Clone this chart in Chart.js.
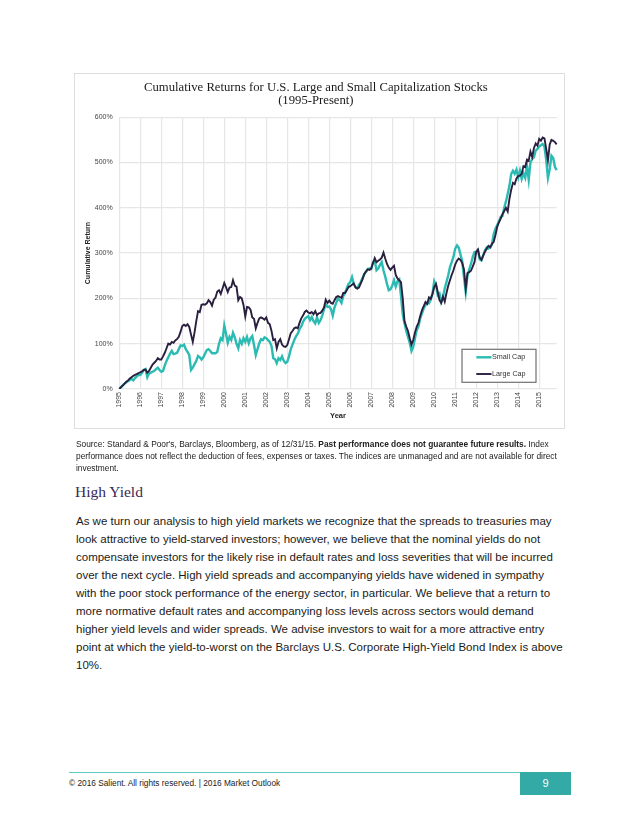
<!DOCTYPE html>
<html>
<head>
<meta charset="utf-8">
<script src="https://cdn.jsdelivr.net/npm/chart.js@4.4.1/dist/chart.umd.min.js"></script>
<style>
  html, body { margin: 0; padding: 0; background: #fff; }
  body { width: 640px; height: 828px; position: relative; overflow: hidden;
         font-family: "Liberation Sans", Arial, sans-serif; color: #1e1e1e; }
  #box { position: absolute; left: 75px; top: 74px; width: 490px; height: 355px; }
  #frame { position: absolute; left: 74px; top: 73px; width: 489px; height: 354px;
           border: 1.5px solid #dedede; pointer-events: none; }
  #source { position: absolute; left: 76px; top: 438px; font-size: 8.35px; line-height: 12px; color: #222; white-space: nowrap; }
  #heading { position: absolute; left: 75px; top: 483px; font-family: "Liberation Serif", serif;
             font-size: 15.5px; line-height: 18px; color: #3a2858; }
  #body { position: absolute; left: 76px; top: 512px; font-size: 11.5px; line-height: 18px; color: #1a1a1a; white-space: nowrap; }
  #rule { position: absolute; left: 69px; top: 771.5px; width: 502px; height: 1px; background: #5ccac4; }
  #foot { position: absolute; left: 69px; top: 778px; font-size: 8.3px; line-height: 10px; color: #222; }
  #page { position: absolute; left: 520px; top: 772px; width: 51px; height: 23px; background: #33aaa6;
          color: #fff; font-size: 11px; line-height: 23px; text-align: center; }
</style>
</head>
<body>
<div id="box"><canvas id="CumulativeReturns"></canvas></div>
<div id="frame"></div>

<div id="source">Source: Standard &amp; Poor's, Barclays, Bloomberg, as of 12/31/15. <b>Past performance does not guarantee future results.</b> Index<br>performance does not reflect the deduction of fees, expenses or taxes. The indices are unmanaged and are not available for direct<br>investment.</div>

<div id="heading">High Yield</div>

<div id="body">As we turn our analysis to high yield markets we recognize that the spreads to treasuries may<br>look attractive to yield-starved investors; however, we believe that the nominal yields do not<br>compensate investors for the likely rise in default rates and loss severities that will be incurred<br>over the next cycle. High yield spreads and accompanying yields have widened in sympathy<br>with the poor stock performance of the energy sector, in particular. We believe that a return to<br>more normative default rates and accompanying loss levels across sectors would demand<br>higher yield levels and wider spreads. We advise investors to wait for a more attractive entry<br>point at which the yield-to-worst on the Barclays U.S. Corporate High-Yield Bond Index is above<br>10%.</div>

<div id="rule"></div>
<div id="foot">© 2016 Salient. All rights reserved. | 2016 Market Outlook</div>
<div id="page">9</div>

<script>
// tick labels (one per January)
var years = ["1995", "1996", "1997", "1998", "1999", "2000", "2001", "2002", "2003", "2004",
             "2005", "2006", "2007", "2008", "2009", "2010", "2011", "2012", "2013", "2014", "2015"];

// monthly cumulative return, %, Jan 1995 - Nov 2015
var smallCap = [
  0, 4, 8, 12, 15, 17, 20, 22, 19, 24, 28, 31,
  31, 36, 42, 44, 26, 34, 36, 38, 40, 44, 47, 42,
  38, 40, 52, 62, 70, 78, 84, 77, 78, 80, 88, 96,
  95, 98, 88, 82, 75, 42, 47, 55, 62, 73, 70, 65,
  70, 78, 86, 88, 84, 79, 79, 79, 82, 100, 112, 108,
  140, 122, 102, 115, 108, 124, 114, 100, 90, 108, 100, 112,
  104, 115, 101, 112, 117, 97, 75, 88, 101, 110, 108, 114,
  112, 108, 104, 95, 68, 66, 57, 68, 64, 72, 62, 57,
  60, 72, 88, 98, 108, 116, 122, 132, 138, 148, 155, 158,
  161, 152, 159, 150, 145, 158, 146, 152, 162, 176, 186, 181,
  182, 176, 162, 180, 190, 200, 196, 190, 205, 212, 222, 232,
  236, 247, 232, 225, 222, 230, 236, 245, 253, 259, 265, 266,
  265, 280, 283, 262, 266, 274, 280, 262, 248, 232, 218, 220,
  228, 240, 226, 238, 242, 205, 165, 145, 128, 115, 102, 84,
  93, 112, 130, 138, 156, 167, 178, 185, 190, 189, 198, 210,
  238, 230, 207, 211, 192, 203, 222, 236, 251, 269, 280, 292,
  310, 317, 312, 297, 282, 247, 214, 250, 264, 276, 291, 302,
  302, 306, 286, 284, 295, 306, 312, 310, 312, 320, 342, 354,
  362, 370, 380, 382, 400, 414, 431, 449, 475, 482, 475, 484,
  467, 482, 464, 476, 466, 493, 462, 500, 508, 512, 526, 530,
  535, 538, 541, 535, 505, 466, 485, 515, 510, 490, 483
];

var largeCap = [
  0, 4, 8, 12, 16, 19, 23, 26, 29, 31, 33, 35,
  37, 39, 42, 43, 36, 40, 47, 54, 58, 62, 68, 65,
  65, 72, 80, 90, 100, 98, 104, 102, 107, 110, 115, 126,
  139, 142, 139, 143, 137, 120, 104, 125, 150, 172, 170, 186,
  187, 186, 189, 196, 192, 184, 197, 202, 215, 218, 210, 222,
  234, 225, 214, 224, 225, 240, 228, 226, 196, 203, 200, 185,
  160, 181, 180, 175, 158, 155, 134, 146, 156, 158, 156, 153,
  158, 146, 143, 128, 108, 110, 90, 104, 110, 98, 94, 93,
  97, 110, 123, 128, 134, 136, 134, 146, 156, 162, 170, 173,
  169, 167, 170, 165, 172, 163, 167, 168, 173, 180, 197, 190,
  195, 190, 188, 196, 203, 205, 203, 201, 212, 212, 218, 225,
  227, 230, 233, 224, 222, 224, 233, 242, 254, 259, 264, 263,
  266, 278, 289, 280, 283, 286, 290, 301, 288, 276, 268, 263,
  268, 272, 252, 244, 240, 236, 200, 150, 138, 128, 112, 98,
  108, 125, 138, 146, 161, 174, 183, 192, 188, 202, 199, 210,
  225, 232, 214, 196, 190, 204, 193, 212, 228, 240, 252, 262,
  275, 283, 288, 285, 278, 264, 222, 256, 258, 261, 270, 280,
  303, 308, 290, 285, 295, 303, 310, 316, 313, 320, 325, 340,
  358, 368, 376, 386, 393, 400, 392, 420, 440, 455, 452, 465,
  470, 471, 475, 492, 490, 506, 504, 524, 512, 532, 542, 537,
  552, 548, 555, 553, 530, 505, 540, 550, 548, 545, 540
];

var yTicks = [0, 100, 200, 300, 400, 500, 600];

var months = [];
for (var i = 0; i < largeCap.length; i++) {
  months.push(years[Math.floor(i / 12)] + "-" + (i % 12 + 1));
}

// legend drawn inside the plot, lower right
var boxLegend = {
  id: "boxLegend",
  afterDraw: function(chart) {
    var ctx = chart.ctx, area = chart.chartArea;
    var w = 74, h = 33;
    var x = area.right - 20.7 - w, y = area.bottom - 6.7 - h;
    ctx.save();
    ctx.fillStyle = "#fff";
    ctx.fillRect(x, y, w, h);
    ctx.strokeStyle = "#707070";
    ctx.lineWidth = 1.2;
    ctx.strokeRect(x, y, w, h);
    chart.data.datasets.forEach(function(ds, k) {
      var cy = y + 8 + k * 16.7;
      ctx.strokeStyle = ds.borderColor;
      ctx.lineWidth = ds.borderWidth;
      ctx.beginPath();
      ctx.moveTo(x + 14.3, cy);
      ctx.lineTo(x + 29.5, cy);
      ctx.stroke();
      ctx.fillStyle = "#333";
      ctx.font = '7.2px "Liberation Sans"';
      ctx.textBaseline = "middle";
      ctx.fillText(ds.label, x + 30, cy);
    });
    ctx.restore();
  }
};

var ctx = document.getElementById("CumulativeReturns").getContext("2d");
var myChart = new Chart(ctx, {
  type: "line",
  data: {
    labels: months,
    datasets: [
      {
        label: "Small Cap",
        data: smallCap,
        borderColor: "#2bbbb3",
        backgroundColor: "#2bbbb3",
        borderWidth: 2.4,
        pointRadius: 0,
        fill: false,
        order: 1,
      },
      {
        label: "Large Cap",
        data: largeCap,
        borderColor: "#2a1f3f",
        backgroundColor: "#2a1f3f",
        borderWidth: 1.9,
        pointRadius: 0,
        fill: false,
        order: 0,
      },
    ],
  },
  options: {
    responsive: true,
    maintainAspectRatio: false,
    animation: false,
    layout: { padding: { left: 0, right: 8.3, top: 0, bottom: 8.5 } },
    plugins: {
      legend: { display: false },
      tooltip: { enabled: false },
      title: {
        display: true,
        text: ["Cumulative Returns for U.S. Large and Small Capitalization Stocks", "(1995-Present)"],
        color: "#1a1a1a",
        font: { family: "Liberation Serif", size: 12.7, weight: "normal", lineHeight: 1.05 },
        padding: { top: 7, bottom: 9.5 },
      },
    },
    scales: {
      x: {
        grid: { color: "#e6e6e6", lineWidth: 1.2, drawTicks: false },
        border: { display: false },
        ticks: {
          autoSkip: false,
          minRotation: 90,
          maxRotation: 90,
          padding: 3,
          color: "#444",
          font: { family: "Liberation Sans", size: 7 },
          callback: function(v, i) { return i % 12 === 0 ? years[i / 12] : null; },
        },
        title: {
          display: true,
          text: "Year",
          color: "#222",
          font: { family: "Liberation Sans", size: 7.5, weight: "bold", lineHeight: 1.2 },
          padding: { top: 0, bottom: 0 },
        },
        afterFit: function(scale) { scale.height = 31.5; },
      },
      y: {
        min: 0,
        max: 600,
        grid: { color: "#e6e6e6", lineWidth: 1.2, drawTicks: false },
        border: { display: false },
        afterBuildTicks: function(scale) { scale.ticks = yTicks.map(function(v) { return { value: v }; }); },
        ticks: {
          padding: 6.6,
          color: "#444",
          font: { family: "Liberation Sans", size: 7 },
          callback: function(v) { return v + "%"; },
        },
        title: {
          display: true,
          text: "Cumulative Return",
          color: "#222",
          font: { family: "Liberation Sans", size: 7, weight: "bold", lineHeight: 1.2 },
          padding: { top: 9, bottom: 0 },
        },
        afterFit: function(scale) { scale.width = 44.3; },
      },
    },
  },
  plugins: [boxLegend],
});
</script>
</body>
</html>
